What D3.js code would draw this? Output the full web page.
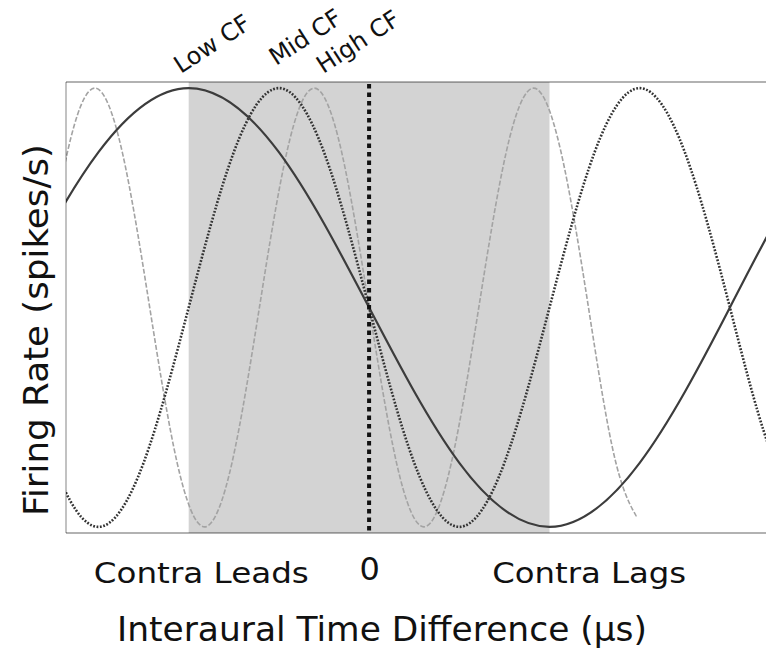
<!DOCTYPE html>
<html>
<head>
<meta charset="utf-8">
<script src="https://cdn.jsdelivr.net/npm/d3@7/dist/d3.min.js"></script>
<style>
  html, body { margin: 0; padding: 0; background: #fff; }
  svg { display: block; }
  text { font-family: "DejaVu Sans", "Noto Sans", sans-serif; fill: #111; }
</style>
</head>
<body>
<svg id="chart" width="766" height="648"></svg>
<script>
// Interaural time difference axis (µs) and firing-rate axis (% of max, spikes/s)
const itdDomain = [-840, 1100];
const rateDomain = [-1.4, 101.4];

// Physiological ITD range shaded behind the curves
const shadedItd = [-500, 500];

// Tick labels along the ITD axis
const itdTicks = [0];
const sideLabels = ["Contra Leads", "Contra Lags"];
const sideLabelItd = [-465, 610];

// Low CF neuron (long period)
const lowItd  = [-1500, -1250, -1000, -750, -500, -250, 0, 250, 500, 750, 1000, 1250, 1500];
const lowRate = [0, 14.6, 50, 85.4, 100, 85.4, 50, 14.6, 0, 14.6, 50, 85.4, 100];

// Mid CF neuron
const midItd  = [-1000, -875, -750, -625, -500, -375, -250, -125, 0, 125, 250, 375, 500, 625, 750, 875, 1000, 1125, 1250];
const midRate = [50, 14.6, 0, 14.6, 50, 85.4, 100, 85.4, 50, 14.6, 0, 14.6, 50, 85.4, 100, 85.4, 50, 14.6, 0];

// High CF neuron (short period), recorded up to ~742 µs
const highItd  = [-912, -836, -760, -684, -608, -532, -456, -380, -304, -228, -152, -76, 0, 76, 152, 228, 304, 380, 456, 532, 608, 684, 760];
const highRate = [50, 85.4, 100, 85.4, 50, 14.6, 0, 14.6, 50, 85.4, 100, 85.4, 50, 14.6, 0, 14.6, 50, 85.4, 100, 85.4, 50, 14.6, 0];
const highEndItd = 742;

const curveNames = ["Low CF", "Mid CF", "High CF"];

const series = [
  { name: curveNames[2], itd: highItd, rate: highRate, end: highEndItd,
    stroke: "#a3a3a3", width: 1.6, dash: "5 2" },
  { name: curveNames[1], itd: midItd, rate: midRate, end: itdDomain[1],
    stroke: "#333", width: 2.6, dash: "1.8 1.6" },
  { name: curveNames[0], itd: lowItd, rate: lowRate, end: itdDomain[1],
    stroke: "#3c3c3c", width: 2.2, dash: null }
];

const plot = { left: 66, right: 766, top: 82, bottom: 533 };

const svg = d3.select("#chart");

const x = d3.scaleLinear().domain(itdDomain).range([plot.left, plot.right]);
const y = d3.scaleLinear().domain(rateDomain).range([plot.bottom, plot.top]);

const defs = svg.append("defs");

// shaded ITD band
svg.append("rect")
  .attr("x", x(shadedItd[0]))
  .attr("y", plot.top)
  .attr("width", x(shadedItd[1]) - x(shadedItd[0]))
  .attr("height", plot.bottom - plot.top)
  .attr("fill", "#d3d3d3");

// tuning curves
const line = d3.line()
  .x(d => x(d[0]))
  .y(d => y(d[1]))
  .curve(d3.curveNatural);

series.forEach((s, i) => {
  const id = "clip" + i;
  defs.append("clipPath").attr("id", id)
    .append("rect")
    .attr("x", plot.left)
    .attr("y", plot.top)
    .attr("width", x(s.end) - plot.left)
    .attr("height", plot.bottom - plot.top);
  svg.append("path")
    .datum(s.itd.map((t, k) => [t, s.rate[k]]))
    .attr("clip-path", `url(#${id})`)
    .attr("fill", "none")
    .attr("stroke", s.stroke)
    .attr("stroke-width", s.width)
    .attr("stroke-dasharray", s.dash)
    .attr("d", line);
});

// frame (semi-transparent so it darkens over the shaded band)
const frame = svg.append("g")
  .attr("stroke", "rgba(0,0,0,0.3)")
  .attr("fill", "none");
frame.append("line").attr("x1", plot.left).attr("x2", plot.right)
  .attr("y1", plot.top).attr("y2", plot.top).attr("stroke-width", 2.2);
frame.append("line").attr("x1", plot.left).attr("x2", plot.right)
  .attr("y1", plot.bottom).attr("y2", plot.bottom).attr("stroke-width", 2.2);
frame.append("line").attr("x1", plot.left).attr("x2", plot.left)
  .attr("y1", plot.top).attr("y2", plot.bottom).attr("stroke-width", 1.6);

// zero-ITD reference line
svg.append("line")
  .attr("x1", x(0)).attr("x2", x(0))
  .attr("y1", plot.top + 2).attr("y2", plot.bottom)
  .attr("stroke", "#111")
  .attr("stroke-width", 4)
  .attr("stroke-dasharray", "4.5 4");

// x axis: only the zero tick is labelled
const xAxis = d3.axisBottom(x)
  .tickValues(itdTicks)
  .tickFormat(d3.format("d"))
  .tickSize(0)
  .tickPadding(24);
const gx = svg.append("g")
  .attr("transform", `translate(0,${plot.bottom})`)
  .call(xAxis);
gx.select(".domain").remove();
gx.selectAll("text")
  .attr("font-size", 32)
  .attr("fill", "#111")
  .style("font-family", "'DejaVu Sans', sans-serif");

// lead / lag side labels
svg.selectAll("text.side")
  .data(sideLabels)
  .join("text")
  .attr("class", "side")
  .attr("x", (d, i) => x(sideLabelItd[i]))
  .attr("y", 583)
  .attr("text-anchor", "middle")
  .attr("font-size", 29)
  .attr("textLength", (d, i) => i === 0 ? 215 : 194)
  .attr("lengthAdjust", "spacingAndGlyphs")
  .text(d => d);

// axis titles
svg.append("text")
  .attr("x", 382)
  .attr("y", 641)
  .attr("text-anchor", "middle")
  .attr("font-size", 33)
  .attr("textLength", 530)
  .attr("lengthAdjust", "spacingAndGlyphs")
  .text("Interaural Time Difference (µs)");

svg.append("text")
  .attr("transform", "translate(48,330) rotate(-90)")
  .attr("text-anchor", "middle")
  .attr("font-size", 33)
  .attr("textLength", 372)
  .attr("lengthAdjust", "spacingAndGlyphs")
  .text("Firing Rate (spikes/s)");

// curve name labels near each best-delay peak
const nameItd = [-500, -250, -152];
const nameOffset = [[-8, -8], [-3, -16], [9, -8]];
svg.selectAll("text.cf")
  .data(curveNames)
  .join("text")
  .attr("class", "cf")
  .attr("transform", (d, i) =>
    `translate(${x(nameItd[i]) + nameOffset[i][0]},${plot.top + nameOffset[i][1]}) rotate(-33)`)
  .attr("font-size", 24)
  .text(d => d);
</script>
</body>
</html>
